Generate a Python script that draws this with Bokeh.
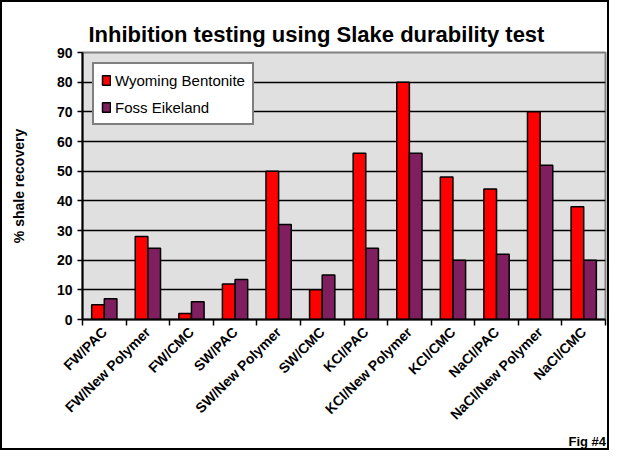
from math import pi
from bokeh.plotting import figure
from bokeh.models import (ColumnDataSource, FixedTicker, Range1d, Legend, LegendItem, Title)
from bokeh.embed import file_html
from bokeh.resources import INLINE

categories = ["FW/PAC", "FW/New Polymer", "FW/CMC", "SW/PAC", "SW/New Polymer", "SW/CMC",
              "KCl/PAC", "KCl/New Polymer", "KCl/CMC", "NaCl/PAC", "NaCl/New Polymer", "NaCl/CMC"]
wyoming = [5, 28, 2, 12, 50, 10, 56, 80, 48, 44, 70, 38]
foss = [7, 24, 6, 13.5, 32, 15, 24, 56, 20, 22, 52, 20]
series_names = ["Wyoming Bentonite", "Foss Eikeland"]
colors = ["#FF0000", "#7F1F5F"]
y_ticks = [0, 10, 20, 30, 40, 50, 60, 70, 80, 90]

n = len(categories)
centers = [i + 0.5 for i in range(n)]
src = ColumnDataSource(dict(xw=[c - 0.145 for c in centers], xf=[c + 0.145 for c in centers],
                            w=wyoming, f=foss))

p = figure(width=609, height=450, output_backend="svg", toolbar_location=None,
           x_range=Range1d(0, n), y_range=Range1d(0, 90),
           min_border_left=80, min_border_right=6, min_border_top=50, min_border_bottom=133)
p.styles = {"border-left": "2px solid black", "border-top": "2px solid black",
            "border-right": "2px solid black", "border-bottom": "2px solid black"}

p.title.text = "Inhibition testing using Slake durability test"
p.title.align = "left"
p.title.offset = 6
p.title.text_font = "Liberation Sans"
p.title.text_font_style = "bold"
p.title.text_font_size = "22px"
p.title.text_color = "black"
p.title.standoff = 11

p.background_fill_color = "#E0E0E0"
p.border_fill_color = "white"
p.outline_line_color = "#808080"
p.outline_line_width = 2

r1 = p.vbar(x="xw", top="w", width=0.29, source=src, fill_color=colors[0],
            line_color="black", line_width=1.5)
r2 = p.vbar(x="xf", top="f", width=0.29, source=src, fill_color=colors[1],
            line_color="black", line_width=1.5)

# axes
p.xaxis.ticker = FixedTicker(ticks=centers, minor_ticks=list(range(n + 1)))
p.xaxis.major_label_overrides = {c: lab for c, lab in zip(centers, categories)}
p.xaxis.major_tick_line_color = None
p.xaxis.minor_tick_line_color = "black"
p.xaxis.minor_tick_line_width = 1.5
p.xaxis.minor_tick_out = 6
p.xaxis.minor_tick_in = 0
p.xaxis.major_label_orientation = pi / 4
p.xaxis.major_label_standoff = 4
p.xaxis.major_label_text_font = "Liberation Sans"
p.xaxis.major_label_text_font_style = "bold"
p.xaxis.major_label_text_font_size = "14px"
p.xaxis.major_label_text_color = "black"
p.xaxis.axis_line_color = "black"
p.xaxis.axis_line_width = 2

p.yaxis.ticker = FixedTicker(ticks=y_ticks)
p.yaxis.minor_tick_line_color = None
p.yaxis.major_tick_line_color = "black"
p.yaxis.major_tick_line_width = 1.5
p.yaxis.major_tick_out = 5
p.yaxis.major_tick_in = 0
p.yaxis.major_label_text_font = "Liberation Sans"
p.yaxis.major_label_text_font_style = "bold"
p.yaxis.major_label_text_font_size = "14px"
p.yaxis.major_label_text_color = "black"
p.yaxis.axis_line_color = "black"
p.yaxis.axis_line_width = 2
p.yaxis.axis_label = "% shale recovery"
p.yaxis.axis_label_text_font = "Liberation Sans"
p.yaxis.axis_label_text_font_style = "bold"
p.yaxis.axis_label_text_font_size = "14px"
p.yaxis.axis_label_text_color = "black"
p.yaxis.axis_label_standoff = 27

p.xgrid.grid_line_color = None
p.ygrid.grid_line_color = "black"
p.ygrid.grid_line_width = 1.5
p.ygrid.ticker = FixedTicker(ticks=y_ticks[1:-1])

legend = Legend(items=[LegendItem(label=series_names[0], renderers=[r1]),
                       LegendItem(label=series_names[1], renderers=[r2])],
                location="top_left")
legend.background_fill_color = "white"
legend.background_fill_alpha = 1
legend.border_line_color = "black"
legend.border_line_width = 2
legend.label_text_font = "Liberation Sans"
legend.label_text_font_size = "15px"
legend.label_text_color = "black"
legend.glyph_width = 10
legend.glyph_height = 12
legend.label_standoff = 4
legend.spacing = 9
legend.padding = 7
legend.margin = 10
legend.label_height = 18
p.add_layout(legend)

fig = Title(text="Fig #4", align="left", offset=486, text_font="Liberation Sans",
            text_font_style="bold", text_font_size="13px", text_color="black", standoff=0)
p.add_layout(fig, "below")

open("out.html", "w").write(file_html(p, INLINE))
